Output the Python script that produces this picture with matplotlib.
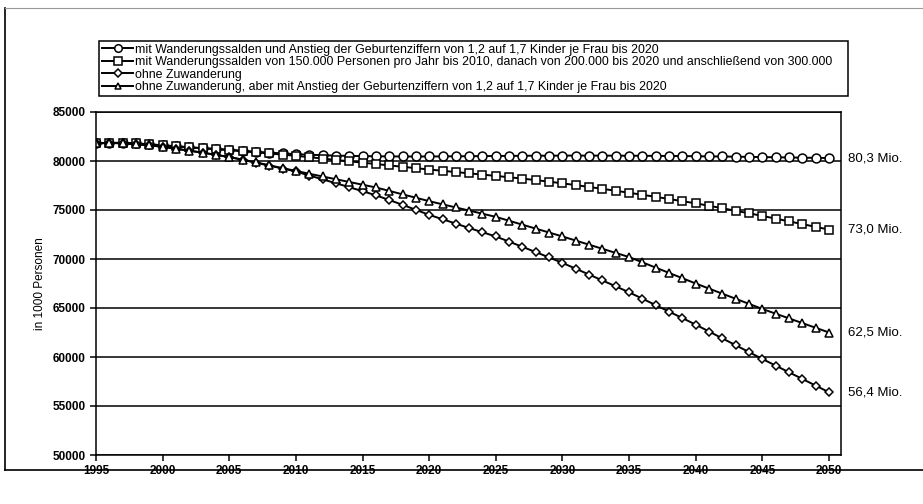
import numpy as np
import matplotlib
matplotlib.use("Agg")
import matplotlib.pyplot as plt
from matplotlib.lines import Line2D

plt.rcParams['font.family'] = ['Liberation Sans', 'DejaVu Sans']

years = list(range(1995, 2051))

# Bevoelkerung in 1000 Personen
mit_wanderung_geburten = [
    81800, 81850, 81850, 81800, 81700, 81600, 81500, 81400, 81300, 81250,
    81150, 81050, 80950, 80850, 80780, 80700, 80640, 80590, 80550, 80520,
    80500, 80480, 80470, 80460, 80460, 80460, 80470, 80480, 80490, 80500,
    80510, 80520, 80530, 80540, 80540, 80550, 80550, 80550, 80550, 80540,
    80540, 80530, 80520, 80510, 80500, 80490, 80470, 80460, 80440, 80420,
    80400, 80380, 80360, 80340, 80320, 80300]

mit_wanderung = [
    81800, 81850, 81850, 81800, 81700, 81600, 81500, 81400, 81300, 81200,
    81100, 80990, 80880, 80770, 80650, 80530, 80390, 80250, 80110, 79970,
    79830, 79690, 79550, 79410, 79270, 79130, 79000, 78870, 78740, 78610,
    78480, 78340, 78200, 78050, 77890, 77720, 77540, 77350, 77160, 76960,
    76760, 76550, 76340, 76120, 75900, 75680, 75430, 75180, 74920, 74660,
    74400, 74120, 73840, 73560, 73280, 73000]

ohne_zuwanderung = [
    81800, 81850, 81800, 81700, 81600, 81450, 81250, 81050, 80850, 80620,
    80400, 80120, 79830, 79530, 79230, 78930, 78520, 78130, 77730, 77330,
    76920, 76500, 76020, 75530, 75020, 74500, 74060, 73610, 73160, 72730,
    72300, 71770, 71240, 70700, 70160, 69600, 69010, 68410, 67810, 67210,
    66600, 65950, 65290, 64630, 63970, 63300, 62600, 61900, 61200, 60500,
    59800, 59120, 58440, 57760, 57080, 56400]

ohne_zuwanderung_geburten = [
    81800, 81850, 81800, 81700, 81600, 81450, 81250, 81050, 80850, 80630,
    80410, 80140, 79860, 79560, 79270, 78990, 78700, 78420, 78140, 77860,
    77580, 77300, 76950, 76600, 76250, 75900, 75580, 75260, 74940, 74620,
    74300, 73900, 73500, 73100, 72700, 72300, 71880, 71460, 71040, 70620,
    70200, 69660, 69120, 68580, 68040, 67500, 66980, 66460, 65940, 65420,
    64900, 64420, 63940, 63460, 62980, 62500]

labels = [
    "mit Wanderungssalden und Anstieg der Geburtenziffern von 1,2 auf 1,7 Kinder je Frau bis 2020",
    "mit Wanderungssalden von 150.000 Personen pro Jahr bis 2010, danach von 200.000 bis 2020 und anschließend von 300.000",
    "ohne Zuwanderung",
    "ohne Zuwanderung, aber mit Anstieg der Geburtenziffern von 1,2 auf 1,7 Kinder je Frau bis 2020",
]
# Wert 2050 je Variante, gleiche Reihenfolge wie oben
end_labels = ["80,3 Mio.", "73,0 Mio.", "56,4 Mio.", "62,5 Mio."]

series = [mit_wanderung_geburten, mit_wanderung, ohne_zuwanderung, ohne_zuwanderung_geburten]
markers = ['o', 's', 'D', '^']
msizes = [6.4, 6.2, 4.4, 5.8]

fig = plt.figure(figsize=(9.23, 5.04), dpi=100)
ax = fig.add_axes([96/923, 1-455/504, 745/923, 343/504])

handles = []
for vals, m, ms, lab in zip(series, markers, msizes, labels):
    h, = ax.plot(years, vals, color='black', lw=1.4, marker=m, ms=ms,
                 mfc='white', mec='black', mew=1.1, label=lab)
    handles.append(h)

ax.set_xlim(1995, 2050.9)
ax.set_ylim(50000, 85000)
ax.set_xticks(range(1995, 2051, 5))
ax.set_yticks(range(50000, 85001, 5000))
ax.yaxis.grid(True, color='black', lw=1.1)
ax.set_axisbelow(True)
for s in ax.spines.values():
    s.set_linewidth(1.1)
ax.tick_params(axis='both', labelsize=8.5, length=4, width=1.1, direction='out')
for t in ax.get_xticklabels() + ax.get_yticklabels():
    t.set_fontweight('bold')
ax.set_ylabel("in 1000 Personen", fontsize=8.5, labelpad=5)

for vals, txt in zip(series, end_labels):
    ax.annotate(txt, xy=(1, vals[-1]), xycoords=('axes fraction', 'data'),
                xytext=(5, 0), textcoords='offset points', va='center',
                fontsize=9.5)

fig.legend(handles=handles, loc='lower left',
           bbox_to_anchor=(99/923, 1-96/504, 749/923, 59/504), mode='expand',
           fontsize=8.9, frameon=True, fancybox=False, edgecolor='black',
           framealpha=1, borderpad=0.25, labelspacing=0.03, handlelength=2.5,
           handletextpad=0.2, borderaxespad=0, markerscale=0.85)
fig.legends[0].get_frame().set_linewidth(1.1)

# Rahmen um die Grafik
fig.add_artist(Line2D([5/923, 5/923], [1-470/504, 1-8/504], color='black', lw=1.2))
fig.add_artist(Line2D([5/923, 1], [1-470/504, 1-470/504], color='black', lw=1.2))
fig.add_artist(Line2D([5/923, 1], [1-8/504, 1-8/504], color='#999999', lw=0.8))

fig.savefig("out.png", dpi=100)
